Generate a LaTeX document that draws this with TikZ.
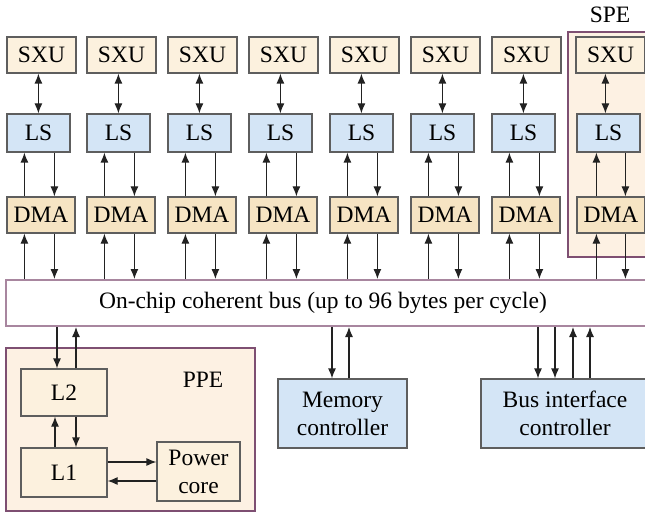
\documentclass[tikz,border=0pt]{standalone}
\usepackage{fontspec}
\setmainfont{Liberation Serif}
\usetikzlibrary{arrows.meta}
\definecolor{sxufill}{HTML}{FCF1DE}
\definecolor{dmafill}{HTML}{F6E4C3}
\definecolor{lsfill}{HTML}{D4E5F6}
\definecolor{grpfill}{HTML}{FDF1E3}
\definecolor{grpline}{HTML}{7E4F72}
\definecolor{busline}{HTML}{A8869F}
\definecolor{boxline}{HTML}{5E5E5E}
\definecolor{arrowc}{HTML}{222222}
\begin{document}
\begin{tikzpicture}[x=1pt,y=-1pt,
  box/.style={draw=boxline, line width=1.2pt, inner sep=0pt, font=\fontsize{23.5}{28}\selectfont, align=center},
  sxubox/.style={box, fill=sxufill, minimum width=69pt, minimum height=36pt},
  lsbox/.style={box, fill=lsfill, minimum width=63pt, minimum height=38pt},
  dmabox/.style={box, fill=dmafill, minimum width=68pt, minimum height=36pt},
  grp/.style={draw=grpline, line width=2.5pt, fill=grpfill, inner sep=0pt},
  arr/.style={-{Latex[length=10pt,width=8pt]}, line width=1.2pt, draw=arrowc},
  darr/.style={{Latex[length=10pt,width=8pt]}-{Latex[length=10pt,width=8pt]}, line width=1.2pt, draw=arrowc},
  lbl/.style={font=\fontsize{23.5}{28}\selectfont, inner sep=0pt}]
\useasboundingbox (0,0) rectangle (645,513);
% SPE group
\node[grp, minimum width=100pt, minimum height=225pt] (spe) at (618,144.5) {};
\node[lbl] (spelabel) at (610,15) {SPE};
% bus
\node[draw=busline, fill=white, line width=2pt, minimum width=650pt, minimum height=46pt, inner sep=0pt] (bus) at (331,303) {};
\node[lbl] (bustext) at (323,303) {On-chip coherent bus (up to 96 bytes per cycle)};
% columns
\foreach \i/\x/\s in {1/7/0,2/87/0,3/168/0,4/249/0,5/330/0,6/411/0,7/492/0,8/576/1} {
  \node[sxubox] (sxu\i) at (\x+34.5,55) {SXU};
  \node[lsbox] (ls\i) at (\x+31.5+\s,133) {LS};
  \node[dmabox] (dma\i) at (\x+34+\s,215) {DMA};
  \draw[darr] ([xshift=32pt-2*\s pt]sxu\i.south west) -- ([xshift=32pt-2*\s pt]sxu\i.south west |- ls\i.north);
  \draw[arr] ([xshift=18pt+2*\s pt]dma\i.north west) -- ([xshift=18pt+2*\s pt]dma\i.north west |- ls\i.south);
  \draw[arr] ([xshift=48pt+\s pt]dma\i.north west |- ls\i.south) -- ([xshift=48pt+\s pt]dma\i.north west);
  \draw[arr] ([xshift=18pt+2*\s pt]dma\i.south west |- bus.north) -- ([xshift=18pt+2*\s pt]dma\i.south west);
  \draw[arr] ([xshift=48pt+\s pt]dma\i.south west) -- ([xshift=48pt+\s pt]dma\i.south west |- bus.north);
}
% PPE
\node[grp, minimum width=249pt, minimum height=163pt] (ppe) at (130.5,429.5) {};
\node[lbl] (ppelabel) at (203,380) {PPE};
\node[box, fill=sxufill, minimum width=86pt, minimum height=47pt] (l2) at (64,392.5) {L2};
\node[box, fill=sxufill, minimum width=86pt, minimum height=49pt] (l1) at (64,472.5) {L1};
\node[box, fill=sxufill, minimum width=83pt, minimum height=59pt] (pc) at (198.5,471.5) {Power\\core};
\coordinate (a1) at (57,0);
\coordinate (a2) at (76,0);
\draw[arr] (a1 |- bus.south) -- (a1 |- l2.north);
\draw[arr] (a2 |- l2.north) -- (a2 |- bus.south);
\coordinate (b1) at (55,0);
\draw[arr] (b1 |- l1.north) -- (b1 |- l2.south);
\draw[arr] (a2 |- l2.south) -- (a2 |- l1.north);
\coordinate (c1) at (0,462);
\coordinate (c2) at (0,481);
\draw[arr] (l1.east |- c1) -- (pc.west |- c1);
\draw[arr] (pc.west |- c2) -- (l1.east |- c2);
% memory controller
\node[box, fill=lsfill, minimum width=129pt, minimum height=69pt] (mem) at (342.5,413.5) {Memory\\controller};
\coordinate (m1) at (332,0);
\coordinate (m2) at (349,0);
\draw[arr] (m1 |- bus.south) -- (m1 |- mem.north);
\draw[arr] (m2 |- mem.north) -- (m2 |- bus.south);
% bus interface controller
\node[box, fill=lsfill, minimum width=168pt, minimum height=69pt] (bic) at (565,413.5) {Bus interface\\controller};
\foreach \xx in {538,555} {
  \coordinate (d\xx) at (\xx,0);
  \draw[arr] (d\xx |- bus.south) -- (d\xx |- bic.north);
}
\foreach \xx in {573,590} {
  \coordinate (u\xx) at (\xx,0);
  \draw[arr] (u\xx |- bic.north) -- (u\xx |- bus.south);
}
\end{tikzpicture}
\end{document}
